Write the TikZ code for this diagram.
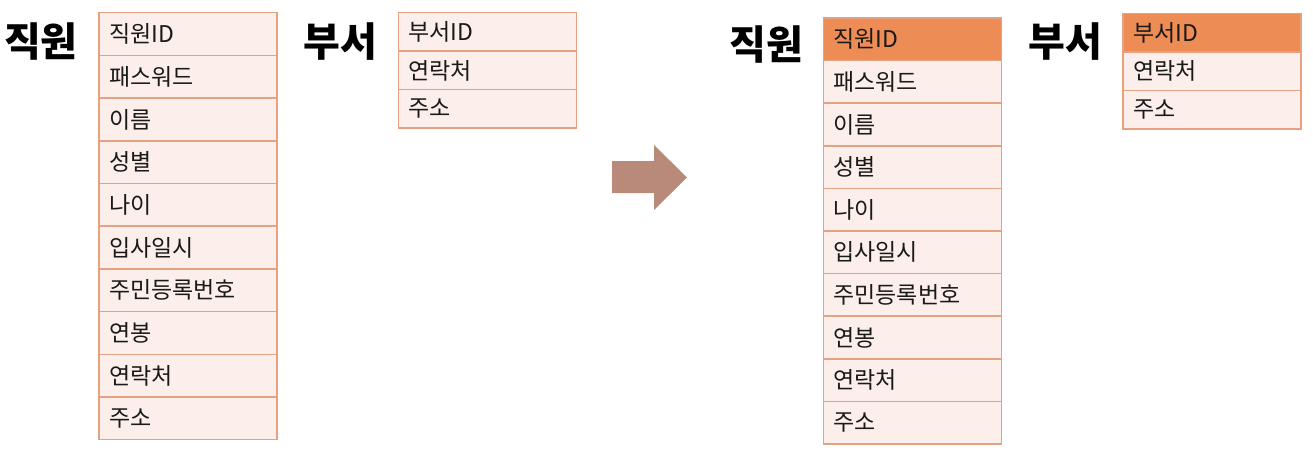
\documentclass[tikz,border=0pt]{standalone}
\usepackage{fontspec}
\newfontfamily\kr{Noto Sans CJK KR}
\definecolor{cellfill}{HTML}{FBEEEB}
\definecolor{cellline}{HTML}{E4A282}
\definecolor{keyfill}{HTML}{EE8C55}
\definecolor{arrowfill}{HTML}{B98A7A}

\begin{document}
\begin{tikzpicture}[x=1pt, y=-1pt,
  cell/.style={draw=cellline, fill=cellfill, line width=1.5pt, anchor=north west,
    minimum width=178pt, text width=158pt, inner xsep=10pt, align=left, outer sep=0pt,
    font=\kr\fontsize{23}{27}\selectfont, text=black!90},
  keycell/.style={cell, fill=keyfill},
  tabletitle/.style={font=\kr\bfseries\fontsize{40}{46}\selectfont, inner sep=0pt}]

  %% ════ 왼쪽: 직원 / 부서 ════
  \node[tabletitle] (empL) at (41,42) {직원};
  \foreach \txt [count=\i] in {직원ID,패스워드,이름,성별,나이,입사일시,주민등록번호,연봉,연락처,주소}
    \node[cell, minimum height=42.7pt] (empL\i) at (99,{12.7+42.7*(\i-1)}) {\txt};

  \node[tabletitle] (deptL) at (340,42) {부서};
  \foreach \txt [count=\i] in {부서ID,연락처,주소}
    \node[cell, minimum height=38.5pt] (deptL\i) at (398.5,{12.7+38.5*(\i-1)}) {\txt};

  %% ════ 화살표 ════
  \fill[arrowfill] (612,161) -- (654,161) -- (654,145) -- (687,177.5)
    -- (654,210) -- (654,193) -- (612,193) -- cycle;

  %% ════ 오른쪽: 기본키 표시 ════
  \node[tabletitle] (empR) at (766,45) {직원};
  \foreach \txt [count=\i] in {직원ID,패스워드,이름,성별,나이,입사일시,주민등록번호,연봉,연락처,주소}
    \node[cell, minimum height=42.6pt] (empR\i) at (823.5,{18+42.6*(\i-1)}) {\txt};
  \node[keycell, minimum height=42.6pt] at (empR1.north west) {직원ID};

  \node[tabletitle] (deptR) at (1065,42) {부서};
  \foreach \txt [count=\i] in {부서ID,연락처,주소}
    \node[cell, minimum height=38.5pt] (deptR\i) at (1123,{13.3+38.5*(\i-1)}) {\txt};
  \node[keycell, minimum height=38.5pt] at (deptR1.north west) {부서ID};

  \pgfresetboundingbox
  \path[use as bounding box] (0,0) rectangle (1313,458);
\end{tikzpicture}
\end{document}
